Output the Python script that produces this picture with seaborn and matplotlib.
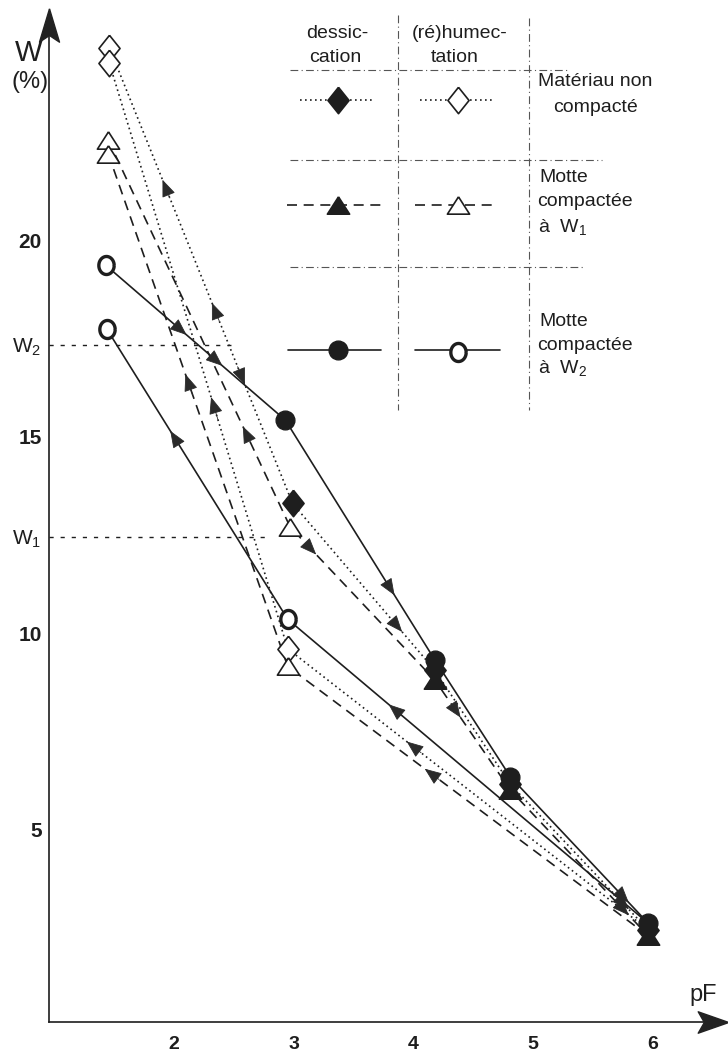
import numpy as np
import pandas as pd
import matplotlib.pyplot as plt
import seaborn as sns

sns.set_theme(style='white')
plt.rcParams['font.family'] = ['Liberation Sans', 'DejaVu Sans']
plt.rcParams['mathtext.default'] = 'regular'

# ---- data (pF, W %) ----
# Materiau non compacte (diamonds, dotted)
pf_desic_nc = [1.46, 2.99, 4.18, 4.81, 5.96]
w_desic_nc = [24.9, 13.3, 9.05, 6.15, 2.45]
pf_rehum_nc = [5.96, 2.95, 1.46]
w_rehum_nc = [2.45, 9.6, 24.5]
# Motte compactee a W1 (triangles, dashed)
pf_desic_w1 = [1.45, 2.97, 4.18, 4.81, 5.96]
w_desic_w1 = [22.55, 12.7, 8.8, 6.0, 2.3]
pf_rehum_w1 = [5.96, 2.95, 1.45]
w_rehum_w1 = [2.3, 9.15, 22.2]
# Motte compactee a W2 (circles, solid)
pf_desic_w2 = [1.43, 2.93, 4.18, 4.81, 5.96]
w_desic_w2 = [19.36, 15.42, 9.31, 6.34, 2.62]
pf_rehum_w2 = [5.96, 2.95, 1.44]
w_rehum_w2 = [2.62, 10.35, 17.73]

W1 = 12.44
W2 = 17.33
x_ticks = [2, 3, 4, 5, 6]
y_ticks = [5, 10, W1, 15, W2, 20]
y_tick_labels = ['5', '10', 'W$_1$', '15', 'W$_2$', '20']

INK = '#1e1e1e'

# marker shapes
t = np.linspace(0, 2 * np.pi, 40)
DIAMOND = [(0, 1), (0.8, 0), (0, -1), (-0.8, 0), (0, 1)]
TRIANGLE = [(0, 0.78), (-1, -0.78), (1, -0.78), (0, 0.78)]
RING = list(zip(0.85 * np.cos(t), np.sin(t)))

styles = {
    'nc': dict(ls=(0, (1, 2.0)), marker=DIAMOND, ms=19, mew=1.2),
    'w1': dict(ls=(0, (6, 4)), marker=TRIANGLE, ms=16, mew=1.2),
    'w2': dict(ls='-', marker='o', ms=13.5, mew=1.0),
}

series = {
    ('nc', 'desic'): (pf_desic_nc, w_desic_nc),
    ('nc', 'rehum'): (pf_rehum_nc, w_rehum_nc),
    ('w1', 'desic'): (pf_desic_w1, w_desic_w1),
    ('w1', 'rehum'): (pf_rehum_w1, w_rehum_w1),
    ('w2', 'desic'): (pf_desic_w2, w_desic_w2),
    ('w2', 'rehum'): (pf_rehum_w2, w_rehum_w2),
}

fig = plt.figure(figsize=(7.28, 10.53), dpi=100)
ax = fig.add_axes([49.3 / 728, 31.3 / 1053, 673.7 / 728, 1008.7 / 1053])

for (mat, kind), (xs, ys) in series.items():
    df = pd.DataFrame({'pF': xs, 'W': ys})
    sns.lineplot(data=df, x='pF', y='W', sort=False, estimator=None, ax=ax,
                 color=INK, lw=1.2, linestyle=styles[mat]['ls'], zorder=2)


def mark(x, y, mat, filled, z=4):
    st = styles[mat]
    if mat == 'w2' and not filled:
        ax.plot(x, y, marker=RING, ms=13, mfc='white', mec=INK, mew=2.4,
                ls='none', zorder=z, clip_on=False)
        return
    ax.plot(x, y, marker=st['marker'], ms=st['ms'], mfc=INK if filled else 'white',
            mec=INK, mew=st['mew'], ls='none', zorder=z, clip_on=False)


# open markers at the wet end and on rehumectation at pF 3
for mat, z in [('nc', 4), ('w1', 5), ('w2', 6)]:
    xs, ys = series[(mat, 'desic')]
    mark(xs[0], ys[0], mat, False, z)
    for i in range(1, len(xs)):
        filled = not (mat == 'w1' and i == 1)
        mark(xs[i], ys[i], mat, filled, z if i > 1 else (5 if mat == 'nc' else 4))
    xs, ys = series[(mat, 'rehum')]
    mark(xs[1], ys[1], mat, False, z)
    mark(xs[2], ys[2], mat, False, z)

# direction arrows: (series, segment, fraction along segment, +1 forward / -1 backward)
arrows = [
    (('nc', 'desic'), 0, 0.30, -1), (('nc', 'desic'), 0, 0.57, -1), (('nc', 'desic'), 0, 0.73, 1),
    (('nc', 'desic'), 1, 0.76, 1), (('nc', 'desic'), 3, 0.85, 1),
    (('w1', 'desic'), 0, 0.75, -1), (('w1', 'desic'), 1, 0.17, 1), (('w1', 'desic'), 2, 0.33, 1),
    (('w1', 'desic'), 3, 0.85, 1),
    (('w2', 'desic'), 0, 0.44, 1), (('w2', 'desic'), 0, 0.64, 1), (('w2', 'desic'), 1, 0.72, 1),
    (('w2', 'desic'), 3, 0.85, 1),
    (('nc', 'rehum'), 0, 0.66, 1), (('nc', 'rehum'), 1, 0.42, 1),
    (('w1', 'rehum'), 0, 0.61, 1), (('w1', 'rehum'), 1, 0.56, 1),
    (('w2', 'rehum'), 0, 0.71, 1), (('w2', 'rehum'), 1, 0.64, 1),
]
for key, seg, frac, d in arrows:
    xs, ys = series[key]
    x0, y0, x1, y1 = xs[seg], ys[seg], xs[seg + 1], ys[seg + 1]
    px, py = x0 + frac * (x1 - x0), y0 + frac * (y1 - y0)
    dx, dy = (x1 - x0) * d, (y1 - y0) * d
    ax.annotate('', xy=(px + 0.01 * dx, py + 0.01 * dy), xytext=(px - 0.03 * dx, py - 0.03 * dy),
                arrowprops=dict(arrowstyle='-|>,head_length=0.9,head_width=0.36', color='#2a2a2a',
                                lw=0.6, shrinkA=0, shrinkB=0), zorder=3)

# W1 / W2 guide lines
ax.plot([0.958, 2.53], [W2, W2], color=INK, lw=1.0, ls=(0, (3, 5)), zorder=1)
ax.plot([0.958, 2.76], [W1, W1], color=INK, lw=1.0, ls=(0, (3, 5)), zorder=1)

ax.set_xlim(0.958, 6.586)
ax.set_ylim(0.11, 25.78)
ax.set_xticks(x_ticks)
ax.set_xticklabels([str(v) for v in x_ticks], fontsize=14, fontweight='bold')
ax.set_yticks(y_ticks)
ax.set_yticklabels(y_tick_labels, fontsize=15)
for lbl in ax.get_yticklabels():
    if 'W' not in lbl.get_text():
        lbl.set_fontweight('bold')
ax.tick_params(axis='both', direction='inout', length=9, width=1.1, color=INK, labelcolor=INK)
ax.tick_params(axis='x', pad=6)
ax.tick_params(axis='y', pad=1)
ax.set_xlabel('')
ax.set_ylabel('')
for s in ['top', 'right']:
    ax.spines[s].set_visible(False)
for s in ['left', 'bottom']:
    ax.spines[s].set_color(INK)
    ax.spines[s].set_linewidth(1.2)
ax.patch.set_alpha(0)

# axis arrowheads
ax.plot(0.958, 25.47, marker=[(0, 1), (-0.6, -1), (0, -0.6), (0.6, -1), (0, 1)], ms=24,
        color='#222', ls='none', clip_on=False, zorder=7)
ax.plot(6.50, 0.11, marker=[(1, 0), (-1, 0.7), (-0.6, 0), (-1, -0.7), (1, 0)], ms=22,
        color='#222', ls='none', clip_on=False, zorder=7)

# ---- overlay in pixel coordinates for legend table and labels ----
lax = fig.add_axes([0, 0, 1, 1])
lax.set_xlim(0, 728)
lax.set_ylim(1053, 0)
lax.axis('off')

lax.text(29, 53, 'W', fontsize=21, ha='center', va='center', color=INK)
lax.text(30, 82, '(%)', fontsize=17, ha='center', va='center', color=INK)
lax.text(703, 995, 'pF', fontsize=17, ha='center', va='center', color=INK)

grid = dict(color='#555', lw=0.8, ls=(0, (7, 3, 1, 3)))
lax.plot([398, 398], [15, 410], **grid)
lax.plot([529, 529], [18, 410], **grid)
lax.plot([290, 570], [70, 70], **grid)
lax.plot([290, 602], [160, 160], **grid)
lax.plot([290, 583], [267, 267], **grid)

head_kw = dict(fontsize=14, ha='center', va='center', color=INK)
lax.text(337, 33, 'dessic-', **head_kw)
lax.text(335, 57, 'cation', **head_kw)
lax.text(460, 33, '(ré)humec-', **head_kw)
lax.text(455, 57, 'tation', **head_kw)

rows = [('nc', 100, 300, 372, 420, 495), ('w1', 205, 287, 385, 415, 497), ('w2', 350, 288, 381, 415, 500)]
for mat, yy, a0, a1, b0, b1 in rows:
    st = styles[mat]
    lax.plot([a0, a1], [yy, yy], color=INK, lw=1.2, ls=st['ls'])
    lax.plot([b0, b1], [yy, yy], color=INK, lw=1.2, ls=st['ls'])
    lax.plot(338, yy, marker=st['marker'], ms=st['ms'], mfc=INK, mec=INK, mew=st['mew'], ls='none')
    if mat == 'w2':
        lax.plot(458, yy + 2, marker=RING, ms=13, mfc='white', mec=INK, mew=2.4, ls='none')
    else:
        lax.plot(458, yy, marker=st['marker'], ms=st['ms'], mfc='white', mec=INK, mew=st['mew'], ls='none')

lab_kw = dict(fontsize=14, ha='left', va='center', color=INK)
lax.text(538, 82, 'Matériau non', **lab_kw)
lax.text(553, 107, 'compacté', **lab_kw)
lax.text(539, 178, 'Motte', **lab_kw)
lax.text(537, 202, 'compactée', **lab_kw)
lax.text(538, 227, 'à  W$_1$', **lab_kw)
lax.text(539, 322, 'Motte', **lab_kw)
lax.text(537, 345, 'compactée', **lab_kw)
lax.text(538, 368, 'à  W$_2$', **lab_kw)

fig.savefig('out.png', dpi=100, facecolor='white')
